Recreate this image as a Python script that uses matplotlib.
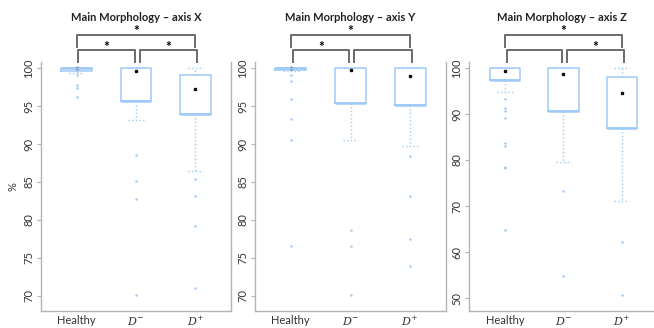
import matplotlib
matplotlib.use("Agg")
import matplotlib.pyplot as plt
from matplotlib import transforms

plt.rcParams['font.family'] = ['Lato', 'DejaVu Sans']
plt.rcParams['mathtext.fontset'] = 'dejavuserif'

groups = ["Healthy", "$D^{-}$", "$D^{+}$"]
titles = ["Main Morphology – axis X", "Main Morphology – axis Y", "Main Morphology – axis Z"]

# axis X
x_q1 = [99.6, 95.6, 93.9]
x_med = [100.0, 95.6, 93.9]
x_q3 = [100.0, 100.0, 99.1]
x_lo = [99.4, 93.2, 86.5]
x_hi = [100.0, 100.0, 100.0]
x_mean = [100.0, 99.6, 97.3]
x_out = [[99.1, 97.8, 97.4, 96.2], [88.5, 85.1, 82.8, 70.1], [85.4, 83.2, 79.2, 71.0]]

# axis Y
y_q1 = [99.7, 95.4, 95.2]
y_med = [100.0, 95.4, 95.2]
y_q3 = [100.0, 100.0, 100.0]
y_lo = [99.6, 90.5, 89.7]
y_hi = [100.0, 100.0, 100.0]
y_mean = [100.0, 99.7, 98.9]
y_out = [[99.1, 98.3, 95.9, 93.25, 90.5, 76.6], [78.7, 76.5, 70.1], [88.4, 83.1, 77.5, 73.9]]

# axis Z
z_q1 = [97.4, 90.7, 87.0]
z_med = [97.4, 90.7, 87.0]
z_q3 = [100.0, 100.0, 98.1]
z_lo = [94.8, 79.5, 71.1]
z_hi = [100.0, 100.0, 100.0]
z_mean = [99.3, 98.7, 94.6]
z_out = [[93.2, 91.4, 90.7, 89.2, 83.8, 83.0, 78.5, 78.2, 64.8], [73.3, 54.8], [62.2, 50.7]]

x_ticks = [70, 75, 80, 85, 90, 95, 100]
z_ticks = [50, 60, 70, 80, 90, 100]

# significance brackets: (from, to, star)
x_sig = [(1, 3, True), (1.03, 1.98, True), (2.06, 3.03, True)]
y_sig = [(1, 3, True), (1.03, 1.98, True), (2.06, 3.03, False)]
z_sig = [(1, 3, True), (1.03, 1.98, False), (2.06, 3.03, True)]

blue = '#9fcaf7'
grey = '#b4b4b4'

fig = plt.figure(figsize=(6.54, 3.28), dpi=100)
W, H = 654, 328

def px_axes(left, right, top, bottom):
    return fig.add_axes([left / W, 1 - bottom / H, (right - left) / W, (bottom - top) / H])

axes = [px_axes(41, 231, 62, 311), px_axes(255, 446, 62, 311), px_axes(469, 654, 62, 311)]
stats_all = [(x_q1, x_med, x_q3, x_lo, x_hi, x_out, x_mean, x_ticks, (68.0, 100.8), (0.4, 3.6), x_sig),
             (y_q1, y_med, y_q3, y_lo, y_hi, y_out, y_mean, x_ticks, (68.0, 100.8), (0.4, 3.6), y_sig),
             (z_q1, z_med, z_q3, z_lo, z_hi, z_out, z_mean, z_ticks, (47.2, 101.3), (0.385, 3.55), z_sig)]

for i, ax in enumerate(axes):
    q1, med, q3, lo, hi, out, mean, ticks, ylim, xlim, sig = stats_all[i]
    bstats = []
    for k in range(3):
        bstats.append(dict(q1=q1[k], med=med[k], q3=q3[k], whislo=lo[k], whishi=hi[k],
                           fliers=out[k], label=groups[k]))
    ax.bxp(bstats, positions=[1, 2, 3], widths=0.52, showfliers=True,
           boxprops=dict(color=blue, linewidth=1.1),
           medianprops=dict(color=blue, linewidth=1.8),
           whiskerprops=dict(color=blue, linewidth=1.0, linestyle=':'),
           capprops=dict(color=blue, linewidth=1.0, linestyle=':'),
           flierprops=dict(marker='o', markersize=1.8, markerfacecolor=blue,
                           markeredgecolor='none'))
    ax.plot([1, 2, 3], mean, 's', color='#111111', markersize=1.5, linestyle='none')
    ax.set_xlim(*xlim)
    ax.set_ylim(*ylim)
    ax.set_yticks(ticks)
    ax.set_yticklabels([str(t) for t in ticks], rotation=90, va='center', fontsize=8, color='#333333')
    ax.set_xticks([1, 2, 3])
    ax.set_xticklabels(groups, fontsize=8, color='#333333')
    ax.tick_params(axis='x', length=0, pad=3)
    ax.tick_params(axis='y', length=3, color=grey, pad=2)
    for s in ['left', 'bottom', 'right']:
        ax.spines[s].set_color(grey)
        ax.spines[s].set_linewidth(1.0)
    ax.spines['top'].set_visible(False)
    if i == 2:
        ax.spines['right'].set_visible(False)
    ax.set_title(titles[i], fontsize=8, fontweight='bold', pad=0, y=1 + (62 - 15) / 249 - 0.025,
                 color='#222222')

    tr = transforms.blended_transform_factory(ax.transData, fig.transFigure)
    for j, (a, b, star) in enumerate(sig):
        if j == 0:
            ytop, ybot, ystar = 35, 47, 29
        else:
            ytop, ybot, ystar = 50, 62, 44
        ax.plot([a, a, b, b], [1 - ybot / H, 1 - ytop / H, 1 - ytop / H, 1 - ybot / H],
                color='#6a6a6a', linewidth=1.4, transform=tr, clip_on=False)
        if star:
            ax.text((a + b) / 2, 1 - (ystar + 2.5) / H, '*', ha='center', va='center',
                    fontsize=10, fontweight='bold', transform=tr)

axes[0].set_ylabel('%', fontsize=8, color='#333333', labelpad=3)

fig.savefig('out.png', dpi=100)
